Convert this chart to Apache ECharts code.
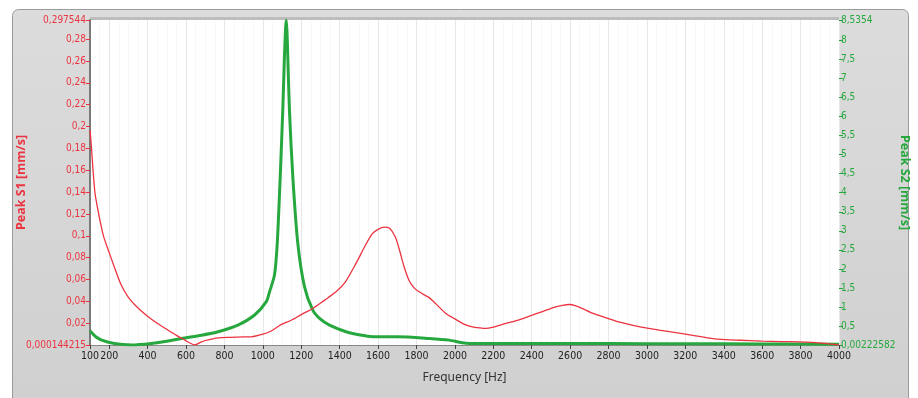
<!DOCTYPE html>
<html>
<head>
<meta charset="utf-8">
<script src="https://cdn.jsdelivr.net/npm/echarts@6/dist/echarts.min.js"></script>
<style>
  html, body { margin: 0; padding: 0; background: #fff; }
  #chart { width: 918px; height: 398px; }
</style>
</head>
<body>
<div id="chart"></div>
<script>
// frequency ticks [Hz]
var freqTicks = [100, 200, 400, 600, 800, 1000, 1200, 1400, 1600, 1800, 2000, 2200, 2400,
    2600, 2800, 3000, 3200, 3400, 3600, 3800, 4000];
var s1Ticks = [0.000144215, 0.02, 0.04, 0.06, 0.08, 0.1, 0.12, 0.14, 0.16, 0.18, 0.2,
    0.22, 0.24, 0.26, 0.28, 0.297544];
var s2Ticks = [0.00222582, 0.5, 1, 1.5, 2, 2.5, 3, 3.5, 4, 4.5, 5, 5.5, 6, 6.5, 7, 7.5, 8, 8.5354];

// Peak S1 (left axis)
var s1Freq = [100, 108, 115, 126, 140, 152, 170, 195, 230, 260, 299, 350, 403, 450, 507, 550, 594,
    620, 645, 680, 720, 767, 830, 900, 940, 1000, 1044, 1087, 1150, 1200, 1260, 1320, 1381,
    1430, 1485, 1530, 1570, 1600, 1632, 1660, 1690, 1710, 1735, 1762, 1790, 1814, 1840, 1866,
    1900, 1953, 2000, 2050, 2091, 2130, 2160, 2200, 2265, 2330, 2403, 2460, 2524, 2560, 2594,
    2630, 2663, 2720, 2784, 2853, 2922, 3009, 3100, 3200, 3290, 3373, 3480, 3598, 3700, 3788,
    3860, 3927, 3980, 4000];
var s1Val = [0.197, 0.18, 0.162, 0.139, 0.125, 0.114, 0.100, 0.087, 0.070, 0.056, 0.044, 0.034, 0.026,
    0.020, 0.0137, 0.009, 0.0046, 0.002, 0.0003, 0.003, 0.005, 0.0067, 0.0072, 0.0075, 0.0076,
    0.010, 0.013, 0.018, 0.023, 0.028, 0.0336, 0.041, 0.0488, 0.058, 0.0748, 0.09, 0.102, 0.106,
    0.108, 0.107, 0.099, 0.088, 0.072, 0.059, 0.052, 0.0488, 0.046, 0.0435, 0.038, 0.029, 0.024,
    0.019, 0.0168, 0.0158, 0.0153, 0.0165, 0.0199, 0.023, 0.0275, 0.031, 0.035, 0.0365, 0.0372,
    0.036, 0.0336, 0.029, 0.0253, 0.0213, 0.0183, 0.0153, 0.0128, 0.010, 0.0075, 0.0055, 0.0045,
    0.0037, 0.0033, 0.003, 0.0025, 0.0016, 0.0006, 0.0003];

// Peak S2 (right axis)
var s2Freq = [100, 130, 161, 220, 317, 420, 500, 576, 680, 767, 870, 957, 1018, 1035, 1061,
    1075, 1087, 1095, 1104, 1112, 1118, 1122, 1126, 1132, 1139, 1156, 1182, 1217, 1260, 1300,
    1347, 1433, 1500, 1572, 1700, 1866, 1970, 2057, 2200, 2500, 2800, 3200, 3600, 4000];
var s2Val = [0.375, 0.22, 0.13, 0.05, 0.005, 0.044, 0.1, 0.175, 0.26, 0.35, 0.525, 0.79, 1.14,
    1.4, 1.85, 2.67, 4.0, 5.0, 6.2, 7.5, 8.3, 8.5354, 8.2, 7.2, 6.1, 4.42, 2.67, 1.53, 0.92, 0.68,
    0.525, 0.35, 0.27, 0.22, 0.22, 0.175, 0.13, 0.05, 0.04, 0.04, 0.04, 0.035, 0.03, 0.02];

function pairs(xs, ys) {
    var out = [];
    for (var i = 0; i < xs.length; i++) out.push([xs[i], ys[i]]);
    return out;
}
function comma(v) { return String(v).replace('.', ','); }

var RED = '#ec3340';
var GREEN = '#27a83e';
var labelFont = "'Liberation Sans Narrow', 'DejaVu Sans Condensed', sans-serif";

var chart = echarts.init(document.getElementById('chart'));
var option = {
    animation: false,
    graphic: [
        {
            type: 'rect', z: -10,
            shape: { x: 12.5, y: 9.5, width: 896, height: 420, r: 6 },
            style: {
                fill: new echarts.graphic.LinearGradient(0, 0, 0, 1, [
                    { offset: 0, color: '#dcdcdc' }, { offset: 1, color: '#cfcfcf' }
                ]),
                stroke: '#9a9a9a', lineWidth: 1
            }
        },
        {
            type: 'rect', z: -9,
            shape: { x: 90, y: 17, width: 749, height: 3 },
            style: { fill: '#bdbdbd' }
        }
    ],
    grid: {
        left: 90, right: 79, top: 20, bottom: 53, outerBoundsMode: 'none', containLabel: false,
        show: true, backgroundColor: '#ffffff', borderWidth: 0
    },
    xAxis: [
        {
            type: 'value', min: 100, max: 4000,
            name: 'Frequency [Hz]', nameLocation: 'middle', nameGap: 27, nameMoveOverlap: false,
            nameTextStyle: { color: '#333', fontSize: 12, fontFamily: 'Noto Sans' },
            axisLine: { show: true, lineStyle: { color: '#888', width: 1 } },
            axisTick: { show: true, customValues: freqTicks, length: 4, lineStyle: { color: '#444' } },
            axisLabel: {
                customValues: freqTicks, color: '#222', fontSize: 10.5, margin: 6, fontFamily: labelFont,
                formatter: function (v) { return String(v); }
            },
            splitLine: { show: true, lineStyle: { color: '#dedede', width: 1 } }
        },
        {
            type: 'value', min: 100, max: 4000, interval: 50, show: true,
            axisLine: { show: false }, axisTick: { show: false }, axisLabel: { show: false },
            splitLine: { show: true, lineStyle: { color: '#f1f1f1', width: 1, type: 'dotted' } }
        }
    ],
    yAxis: [
        {
            type: 'value', min: 0.000144215, max: 0.297544,
            name: 'Peak S1 [mm/s]', nameLocation: 'middle', nameGap: 62, nameMoveOverlap: false,
            nameTextStyle: { color: RED, fontSize: 12.5, fontWeight: 'bold', fontFamily: 'Noto Sans' },
            axisLine: { show: true, lineStyle: { color: '#7a7a7a', width: 2 } },
            axisTick: { show: true, customValues: s1Ticks, length: 4, lineStyle: { color: RED } },
            axisLabel: { customValues: s1Ticks, color: RED, fontSize: 10, margin: 4, fontFamily: labelFont, formatter: comma },
            splitLine: { show: false }
        },
        {
            type: 'value', min: 0.00222582, max: 8.5354, position: 'right',
            name: 'Peak S2 [mm/s]', nameLocation: 'middle', nameGap: 59, nameRotate: -90, nameMoveOverlap: false,
            nameTextStyle: { color: GREEN, fontSize: 12.5, fontWeight: 'bold', fontFamily: 'Noto Sans' },
            axisLine: { show: false },
            axisTick: { show: true, customValues: s2Ticks, length: 4, inside: false, lineStyle: { color: GREEN } },
            axisLabel: { customValues: s2Ticks, color: GREEN, fontSize: 10, margin: 2, fontFamily: labelFont, formatter: comma },
            splitLine: { show: false }
        }
    ],
    series: [
        {
            name: 'Peak S2', type: 'line', yAxisIndex: 1, showSymbol: false, smooth: 0.25,
            data: pairs(s2Freq, s2Val),
            lineStyle: { color: GREEN, width: 3 }
        },
        {
            name: 'Peak S1', type: 'line', yAxisIndex: 0, showSymbol: false, smooth: 0.25,
            data: pairs(s1Freq, s1Val),
            lineStyle: { color: RED, width: 1.3 }
        }
    ]
};
chart.setOption(option);
</script>
</body>
</html>
